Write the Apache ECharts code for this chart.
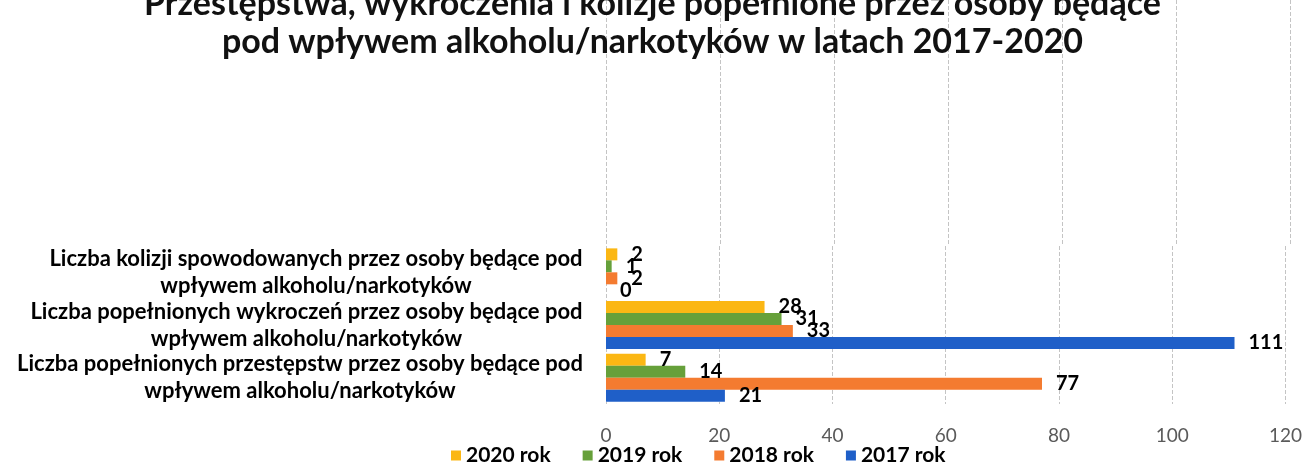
<!DOCTYPE html>
<html>
<head>
<meta charset="utf-8">
<script src="https://cdn.jsdelivr.net/npm/echarts@6/dist/echarts.min.js"></script>
<style>
  html, body { margin: 0; padding: 0; background: #fff; }
  #chart01 { width: 1305px; height: 466px; }
</style>
</head>
<body>
<div id="chart01"></div>
<script>
// categories, bottom to top (echarts puts the first one at the bottom)
var categories = [
    ['Liczba popełnionych przestępstw przez osoby będące pod', 'wpływem alkoholu/narkotyków'],
    ['Liczba popełnionych wykroczeń przez osoby będące pod', 'wpływem alkoholu/narkotyków'],
    ['Liczba kolizji spowodowanych przez osoby będące pod', 'wpływem alkoholu/narkotyków']
];
var seriesNames = ['2020 rok', '2019 rok', '2018 rok', '2017 rok'];
var v2020 = [7, 28, 2];
var v2019 = [14, 31, 1];
var v2018 = [77, 33, 2];
var v2017 = [21, 111, 0];
var xTicks = [0, 20, 40, 60, 80, 100, 120];

var colores = ['#FBB714', '#66A03A', '#F47B30', '#1F5FC8'];
var fuente  = 'Lato';
var labSize = 22;

// width of the first line of every category label, so the second line can be centred under it
var cnv = document.createElement('canvas').getContext('2d');
cnv.font = 'bold ' + labSize + 'px ' + fuente;
var rich = {};
var catNames = [];
categories.forEach(function (c, i) {
    var w = Math.ceil(cnv.measureText(c[0]).width);
    rich['c' + i] = { width: w, align: 'center', fontFamily: fuente, fontWeight: 'bold', fontSize: labSize, lineHeight: 27, color: '#000' };
    catNames.push('{c' + i + '|' + c[0] + '}\n{c' + i + '|' + c[1] + '}');
});

var valores = [v2020, v2019, v2018, v2017];
var series = [];
seriesNames.forEach(function (n, i) {
    series.push({
        name: n,
        type: 'bar',
        xAxisIndex: 0,
        yAxisIndex: 0,
        barGap: '0%',
        barCategoryGap: '9%',
        itemStyle: { color: colores[i] },
        label: {
            show: true,
            position: 'right',
            distance: 14,
            color: '#000',
            fontFamily: fuente,
            fontWeight: 'bold',
            fontSize: 20
        },
        data: valores[i]
    });
});

var cha01 = echarts.init(document.getElementById('chart01'));
var opt01 = {
    animation: false,
    color: colores,
    title: {
        text: 'Przestępstwa, wykroczenia i kolizje popełnione przez osoby będące\npod wpływem alkoholu/narkotyków w latach 2017-2020',
        left: 'center',
        top: -20,
        textStyle: { fontFamily: fuente, fontWeight: 'bold', fontSize: 34, lineHeight: 38, color: '#111' }
    },
    legend: {
        data: seriesNames,
        left: 446,
        top: 440,
        itemWidth: 10,
        itemHeight: 10,
        itemGap: 32,
        icon: 'rect',
        textStyle: { fontFamily: fuente, fontWeight: 'bold', fontSize: 21, color: '#000' }
    },
    grid: [
        { left: 606, right: 15, top: 246, bottom: 62 },
        // only carries the dashed gridlines up through the title area
        { left: 606, right: 15, top: 0, height: 246 }
    ],
    xAxis: [
        {
            type: 'value', gridIndex: 0, min: 0, max: 120, interval: 20,
            axisLine: { show: false }, axisTick: { show: false },
            axisLabel: { margin: 22, color: '#5a5a5a', fontFamily: fuente, fontSize: 19,
                formatter: function (v) { return xTicks.indexOf(v) >= 0 ? v : ''; } },
            splitLine: { lineStyle: { type: 'dashed', color: '#c4c4c4', width: 1 } }
        },
        {
            type: 'value', gridIndex: 1, min: 0, max: 120, interval: 20,
            axisLine: { show: false }, axisTick: { show: false }, axisLabel: { show: false },
            splitLine: { lineStyle: { type: 'dashed', color: '#c4c4c4', width: 1 } }
        }
    ],
    yAxis: [
        {
            type: 'category', gridIndex: 0, data: catNames,
            axisLine: { show: false }, axisTick: { show: false },
            axisLabel: { margin: 23, align: 'right', rich: rich }
        },
        {
            type: 'value', gridIndex: 1, min: 0, max: 1, show: false
        }
    ],
    series: series
};
cha01.setOption(opt01);
</script>
</body>
</html>
